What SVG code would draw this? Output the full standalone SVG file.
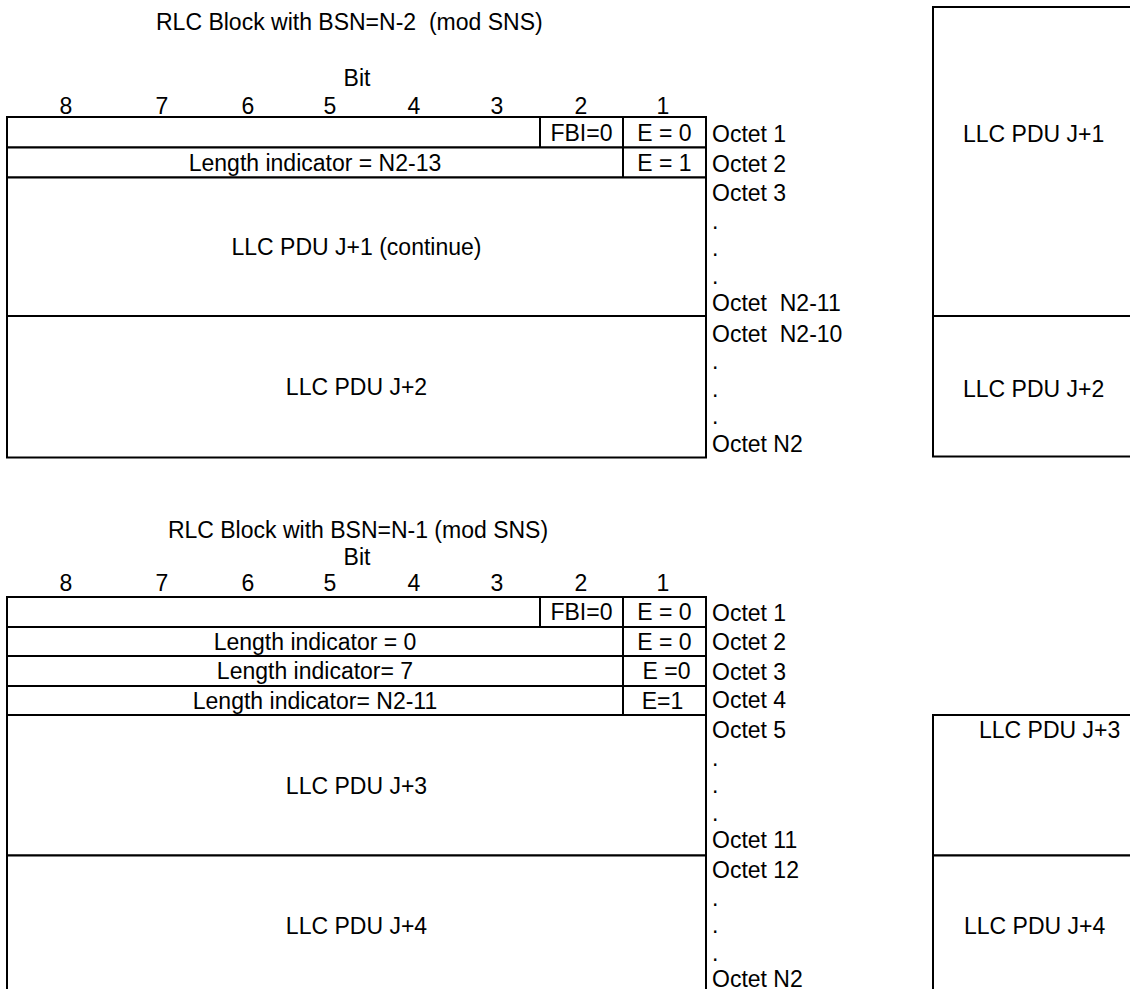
<svg xmlns="http://www.w3.org/2000/svg" width="1130" height="989" viewBox="0 0 1130 989">
<style>
text{font-family:"Liberation Sans",Arial,sans-serif;font-size:23px;fill:#000;white-space:pre}
.c{text-anchor:middle}
.b{fill:#fff;stroke:#000;stroke-width:2}
.l{stroke:#000;stroke-width:2;fill:none}
</style>
<rect width="1130" height="989" fill="#fff"/>
<g id="block1">
  <text x="156" y="30" xml:space="preserve">RLC Block with BSN=N-2  (mod SNS)</text>
  <text class="c" x="357" y="86">Bit</text>
  <g id="bits1">
    <text class="c" x="66" y="114">8</text><text class="c" x="162" y="114">7</text><text class="c" x="248" y="114">6</text><text class="c" x="330" y="114">5</text><text class="c" x="414" y="114">4</text><text class="c" x="497" y="114">3</text><text class="c" x="581" y="114">2</text><text class="c" x="663" y="114">1</text>
  </g>
  <g id="b1-octet1">
    <rect class="b" x="7" y="117" width="699" height="30.5"/>
    <line class="l" x1="540" y1="117" x2="540" y2="147.5"/>
    <line class="l" x1="623" y1="117" x2="623" y2="147.5"/>
    <text class="c" x="581.5" y="140.6">FBI=0</text>
    <text class="c" x="664.5" y="140.6">E = 0</text>
  </g>
  <g id="b1-octet2">
    <rect class="b" x="7" y="147.5" width="699" height="30"/>
    <line class="l" x1="623" y1="147.5" x2="623" y2="177.5"/>
    <text class="c" x="315" y="170.7">Length indicator = N2-13</text>
    <text class="c" x="664.5" y="170.7">E = 1</text>
  </g>
  <g id="b1-pdu1">
    <rect class="b" x="7" y="177.5" width="699" height="138.5"/>
    <text class="c" x="356.5" y="255">LLC PDU J+1 (continue)</text>
  </g>
  <g id="b1-pdu2">
    <rect class="b" x="7" y="316" width="699" height="141.5"/>
    <text class="c" x="356.5" y="395">LLC PDU J+2</text>
  </g>
  <g id="b1-octets">
    <text x="712" y="141.5">Octet 1</text>
    <text x="712" y="171.5">Octet 2</text>
    <text x="712" y="201">Octet 3</text>
    <text x="712" y="228.5">.</text>
    <text x="712" y="256">.</text>
    <text x="712" y="283.5">.</text>
    <text x="712" y="311" xml:space="preserve">Octet  N2-11</text>
    <text x="712" y="341.5" xml:space="preserve">Octet  N2-10</text>
    <text x="712" y="369">.</text>
    <text x="712" y="396.5">.</text>
    <text x="712" y="424">.</text>
    <text x="712" y="451.5">Octet N2</text>
  </g>
</g>
<g id="llc1">
  <g id="llc-j1">
    <rect class="b" x="933" y="7" width="210" height="309"/>
    <text x="963" y="141.5">LLC PDU J+1</text>
  </g>
  <g id="llc-j2">
    <rect class="b" x="933" y="316" width="210" height="140.5"/>
    <text x="963" y="396.5">LLC PDU J+2</text>
  </g>
</g>
<g id="block2">
  <text class="c" x="358" y="538">RLC Block with BSN=N-1 (mod SNS)</text>
  <text class="c" x="357" y="565">Bit</text>
  <g id="bits2">
    <text class="c" x="66" y="591">8</text><text class="c" x="162" y="591">7</text><text class="c" x="248" y="591">6</text><text class="c" x="330" y="591">5</text><text class="c" x="414" y="591">4</text><text class="c" x="497" y="591">3</text><text class="c" x="581" y="591">2</text><text class="c" x="663" y="591">1</text>
  </g>
  <g id="b2-octet1">
    <rect class="b" x="7" y="597" width="699" height="30"/>
    <line class="l" x1="540" y1="597" x2="540" y2="627"/>
    <line class="l" x1="623" y1="597" x2="623" y2="627"/>
    <text class="c" x="581.5" y="620">FBI=0</text>
    <text class="c" x="664.5" y="620">E = 0</text>
  </g>
  <g id="b2-octet2">
    <rect class="b" x="7" y="627" width="699" height="29"/>
    <line class="l" x1="623" y1="627" x2="623" y2="656"/>
    <text class="c" x="315" y="649.7">Length indicator = 0</text>
    <text class="c" x="664.5" y="649.7">E = 0</text>
  </g>
  <g id="b2-octet3">
    <rect class="b" x="7" y="656" width="699" height="30"/>
    <line class="l" x1="623" y1="656" x2="623" y2="686"/>
    <text class="c" x="315" y="679">Length indicator= 7</text>
    <text class="c" x="666.5" y="679">E =0</text>
  </g>
  <g id="b2-octet4">
    <rect class="b" x="7" y="686" width="699" height="29"/>
    <line class="l" x1="623" y1="686" x2="623" y2="715"/>
    <text class="c" x="315" y="708.7">Length indicator= N2-11</text>
    <text class="c" x="662.5" y="708.7">E=1</text>
  </g>
  <g id="b2-pdu3">
    <rect class="b" x="7" y="715" width="699" height="140.5"/>
    <text class="c" x="356.5" y="793.7">LLC PDU J+3</text>
  </g>
  <g id="b2-pdu4">
    <rect class="b" x="7" y="855.5" width="699" height="145"/>
    <text class="c" x="356.5" y="934">LLC PDU J+4</text>
  </g>
  <g id="b2-octets">
    <text x="712" y="621">Octet 1</text>
    <text x="712" y="650">Octet 2</text>
    <text x="712" y="680">Octet 3</text>
    <text x="712" y="708">Octet 4</text>
    <text x="712" y="738">Octet 5</text>
    <text x="712" y="765.5">.</text>
    <text x="712" y="793">.</text>
    <text x="712" y="820.5">.</text>
    <text x="712" y="848">Octet 11</text>
    <text x="712" y="878">Octet 12</text>
    <text x="712" y="905.5">.</text>
    <text x="712" y="933">.</text>
    <text x="712" y="960.5">.</text>
    <text x="712" y="987">Octet N2</text>
  </g>
</g>
<g id="llc2">
  <g id="llc-j3">
    <rect class="b" x="933" y="715" width="210" height="140.5"/>
    <text x="979" y="738">LLC PDU J+3</text>
  </g>
  <g id="llc-j4">
    <rect class="b" x="933" y="855.5" width="210" height="145"/>
    <text x="964" y="934">LLC PDU J+4</text>
  </g>
</g>
</svg>
